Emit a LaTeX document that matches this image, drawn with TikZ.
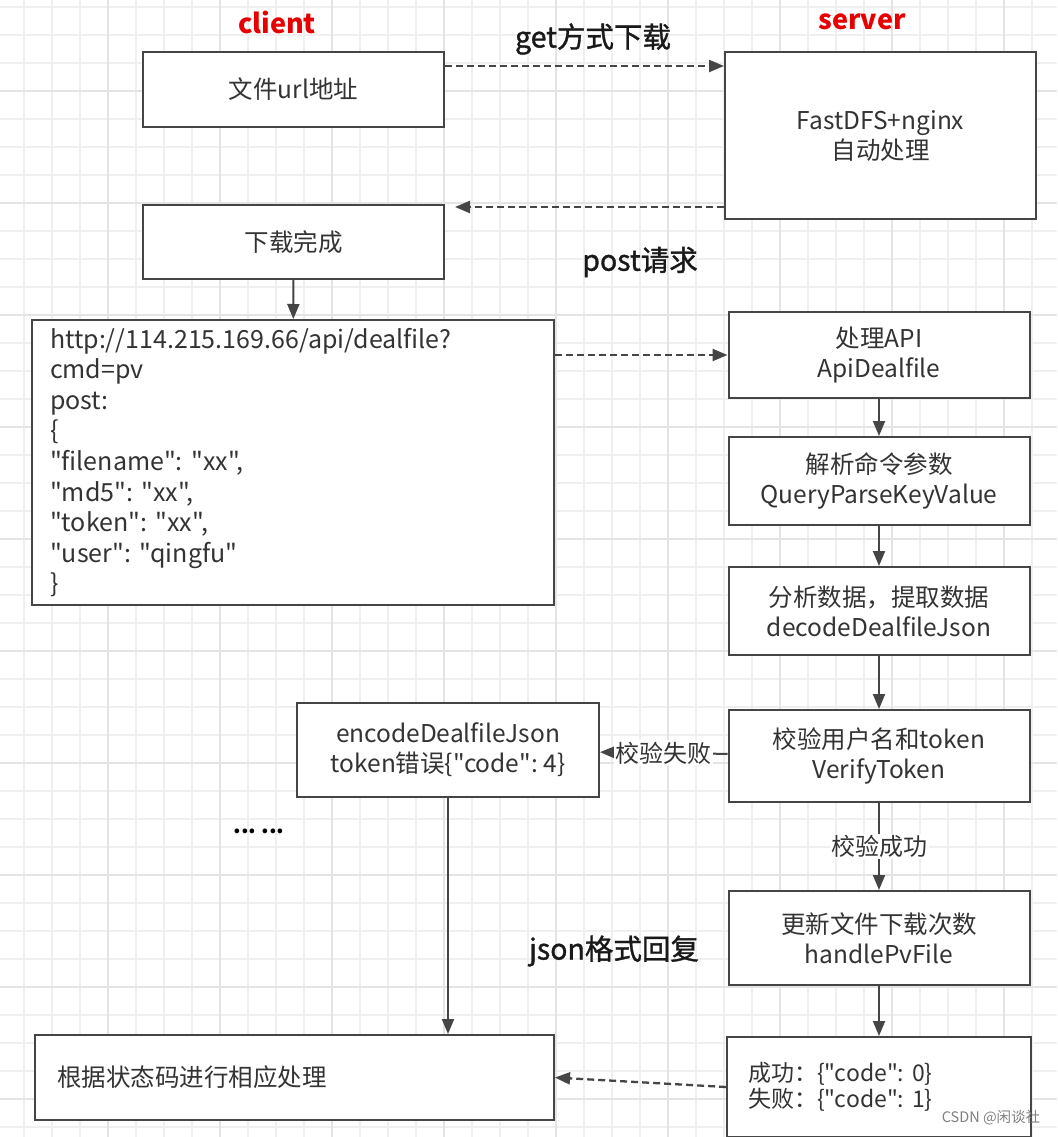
\documentclass[tikz,border=0pt]{standalone}
\usepackage{fontspec}
\newfontfamily\cjk{Noto Sans CJK SC}
\newfontfamily\cjkmid{Noto Sans CJK SC}[FakeBold=1.2]
\usepackage{tikz}
\usetikzlibrary{arrows.meta, positioning, calc}
\definecolor{boxline}{HTML}{454545}
\definecolor{boxtext}{HTML}{333333}
\definecolor{headred}{HTML}{E60000}
\definecolor{gridminor}{HTML}{EFEFEF}
\definecolor{gridmajor}{HTML}{E4E4E4}
\frenchspacing

\begin{document}
\begin{tikzpicture}[
  x=1pt, y=-1pt,
  node distance=40pt,
  every node/.style={font=\cjk\fontsize{24.5}{30}\selectfont, text=boxtext},
  box/.style={rectangle, draw=boxline, line width=2pt, fill=white,
              minimum width=301pt, align=center, inner sep=0pt},
  sbox/.style={box, minimum width=301pt},
  txtbox/.style={box, align=left},
  head/.style={font=\cjk\bfseries\fontsize{27}{30}\selectfont, text=headred},
  note/.style={font=\cjkmid\fontsize{28.5}{30}\selectfont, text=black!90},
  lbl/.style={fill=white, inner sep=1.5pt, font=\cjk\fontsize{24}{30}\selectfont},
  arr/.style={-{Triangle[length=15pt,width=12pt]}, line width=2pt, draw=boxline},
  darr/.style={arr, line width=2.3pt, dash pattern=on 7pt off 4pt},
  gline/.style={line width=1.2pt, draw=gridminor},
  gmajor/.style={line width=1.2pt, draw=gridmajor},
]
% background grid
\fill[white] (0,0) rectangle (1057,1137);
\useasboundingbox (0,0) rectangle (1057,1137);
\foreach \gx in {24,52,...,1052} \draw[gline] (\gx,0) -- (\gx,1137);
\foreach \gy in {7,35,...,1135} \draw[gline] (0,\gy) -- (1057,\gy);
\foreach \gx in {108,220,...,1052} \draw[gmajor] (\gx,0) -- (\gx,1137);
\foreach \gy in {91,203,...,1135} \draw[gmajor] (0,\gy) -- (1057,\gy);

% headings
\node[head] (client) at (277,22) {client};
\node[head] (server) at (862,22) {server};

% client side
\node[box, minimum height=75pt] (url) at (293.5,89.5) {文件url地址};
\node[box, minimum height=74pt] (done) at (293.5,242) {下载完成};
\node[txtbox, minimum width=522pt, minimum height=285pt, text width=486pt,
      font=\cjk\fontsize{25}{30.6}\selectfont] (http) at (293,462.5)
  {http://114.215.169.66/api/dealfile?\\
   cmd=pv\\
   post:\\
   \{\\
   "filename": "xx",\\
   "md5": "xx",\\
   "token": "xx",\\
   "user": "qingfu"\\
   \}};
\node[box, minimum width=302pt, minimum height=94pt] (encode) at (448,750)
  {encodeDealfileJson\\token错误\{"code": 4\}};
\node[txtbox, minimum width=519pt, minimum height=85pt, text width=475pt] (result)
  at (294.5,1077.5) {根据状态码进行相应处理};
\node[font=\cjk\bfseries\fontsize{22}{24}\selectfont, text=black] (dots) at (259,831) {... ...};

% server side
\node[box, minimum width=311pt, minimum height=167pt] (fast) at (880.5,135.5)
  {FastDFS+nginx\\自动处理};
\node[sbox, minimum height=86pt] (api) at (879,355) {处理API\\ApiDealfile};
\node[sbox, minimum height=88pt, below=37pt of api] (parse) {解析命令参数\\QueryParseKeyValue};
\node[sbox, minimum height=88pt, below=40pt of parse] (decode) {分析数据，提取数据\\decodeDealfileJson};
\node[sbox, minimum height=92pt, below=53pt of decode] (verify) {校验用户名和token\\VerifyToken};
\node[sbox, minimum height=94pt, below=87pt of verify] (update) {更新文件下载次数\\handlePvFile};
\node[txtbox, minimum width=304pt, minimum height=100pt, text width=262pt,
      font=\cjk\fontsize{23}{26}\selectfont, below=50pt of update] (code)
  {成功：\{"code": 0\}\\失败：\{"code": 1\}};

% edge labels
\node[note] (get) at (593,39) {get方式下载};
\node[note] (post) at (640,262) {post请求};
\node[note] (json) at (614,951) {json格式回复};

% connectors
\coordinate (getout) at ([yshift=23.5pt]url.east);
\draw[darr] (getout) -- (getout -| fast.west);
\coordinate (backout) at ([yshift=-71.5pt]fast.west);
\coordinate (backin) at (455,207);
\draw[darr] (backout) -- (backin);
\draw[arr] (done) -- (http);
\draw[darr] (http.east |- api.west) -- (api.west);
\draw[arr] (api) -- (parse);
\draw[arr] (parse) -- (decode);
\draw[arr] (decode) -- (verify);
\draw[arr] (verify) -- node[lbl] {校验失败} (encode);
\draw[arr] (verify) -- node[lbl] {校验成功} (update);
\draw[arr] (update) -- (code);
\draw[arr] (encode.south) -- (encode.south |- result.north);
\draw[darr] (code.west) -- (result.east);

% watermark
\node[font=\cjk\fontsize{14.5}{15}\selectfont, text=black!50] (mark) at (991,1118) {CSDN @闲谈社};
\end{tikzpicture}
\end{document}
